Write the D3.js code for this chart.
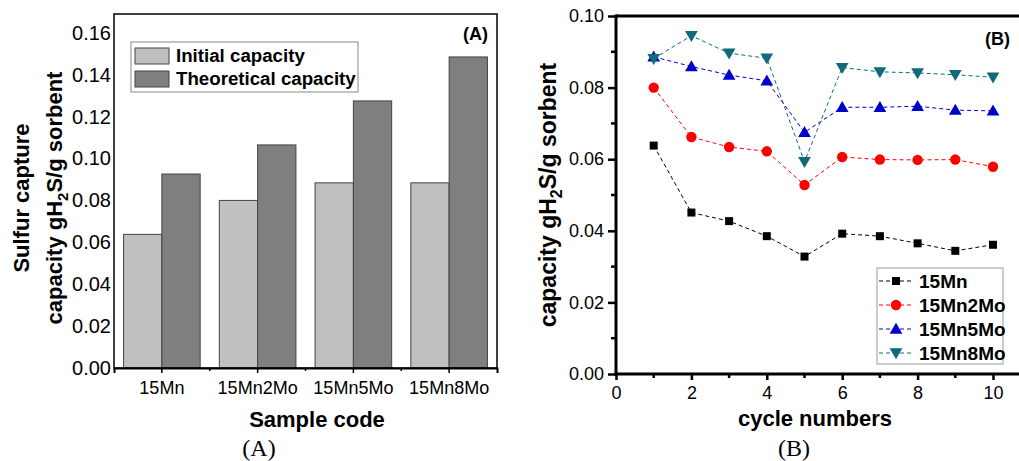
<!DOCTYPE html>
<html>
<head>
<meta charset="utf-8">
<script src="https://cdn.jsdelivr.net/npm/d3@7"></script>
<style>
  body { margin: 0; background: #fff; }
  svg { display: block; font-family: "Liberation Sans", Arial, sans-serif; }
</style>
</head>
<body>
<div id="chart"></div>
<script>
// panel A data
const samples = ["15Mn", "15Mn2Mo", "15Mn5Mo", "15Mn8Mo"];
const barSeries = ["Initial capacity", "Theoretical capacity"];
const initialCap = [0.0638, 0.0800, 0.0884, 0.0884];
const theoreticalCap = [0.0926, 0.1065, 0.1275, 0.1485];
const yTicksA = [0, 0.02, 0.04, 0.06, 0.08, 0.10, 0.12, 0.14, 0.16];

// panel B data
const cycles = [1, 2, 3, 4, 5, 6, 7, 8, 9, 10];
const lineNames = ["15Mn", "15Mn2Mo", "15Mn5Mo", "15Mn8Mo"];
const mn15 = [0.0638, 0.0451, 0.0427, 0.0385, 0.0328, 0.0392, 0.0385, 0.0365, 0.0344, 0.0361];
const mn2mo = [0.0800, 0.0662, 0.0634, 0.0622, 0.0528, 0.0606, 0.0599, 0.0598, 0.0599, 0.0579];
const mn5mo = [0.0886, 0.0859, 0.0835, 0.0819, 0.0675, 0.0745, 0.0745, 0.0748, 0.0737, 0.0735];
const mn8mo = [0.0881, 0.0945, 0.0896, 0.0882, 0.0593, 0.0856, 0.0844, 0.0841, 0.0836, 0.0829];
const xTicksB = [0, 2, 4, 6, 8, 10];
const yTicksB = [0, 0.02, 0.04, 0.06, 0.08, 0.10];

const W = 1019, H = 461;
const svg = d3.select("#chart").append("svg")
    .attr("width", W)
    .attr("height", H);
svg.append("rect").attr("width", W).attr("height", H).attr("fill", "#fff");

// ---------- panel A ----------
const A = { left: 114, right: 497, top: 14, bottom: 368 };

const x0 = d3.scaleBand()
    .domain(samples)
    .range([A.left, A.right])
    .paddingInner(0.2)
    .paddingOuter(0.1);
const x1 = d3.scaleBand()
    .domain(barSeries)
    .range([0, x0.bandwidth()]);
const yA = d3.scaleLinear().domain([0, 0.169]).range([A.bottom, A.top]);
const barColor = d3.scaleOrdinal().domain(barSeries).range(["#c0c0c0", "#7f7f7f"]);

const barRows = samples.map((s, i) => ({ sample: s, values: [initialCap[i], theoreticalCap[i]] }));

const gA = svg.append("g");

gA.selectAll("g.group")
    .data(barRows)
    .join("g")
    .attr("class", "group")
    .attr("transform", d => `translate(${x0(d.sample)},0)`)
    .selectAll("rect")
    .data(d => d.values.map((v, j) => ({ key: barSeries[j], v })))
    .join("rect")
    .attr("x", d => x1(d.key))
    .attr("y", d => yA(d.v))
    .attr("width", x1.bandwidth())
    .attr("height", d => yA(0) - yA(d.v))
    .attr("fill", d => barColor(d.key))
    .attr("stroke", "#444")
    .attr("stroke-width", 1);

// frame
gA.append("rect")
    .attr("x", A.left).attr("y", A.top)
    .attr("width", A.right - A.left).attr("height", A.bottom - A.top)
    .attr("fill", "none").attr("stroke", "#000").attr("stroke-width", 1.5);

// y axis labels (no ticks)
const yAxisA = gA.append("g")
    .attr("transform", `translate(${A.left},0)`)
    .call(d3.axisLeft(yA).tickValues(yTicksA).tickFormat(d3.format(".2f")).tickSize(0).tickPadding(3));
yAxisA.select(".domain").remove();
yAxisA.selectAll("text").attr("font-size", 20).attr("font-family", "Liberation Sans, Arial, sans-serif").attr("fill", "#000");

// bottom axis
const xAxisA = gA.append("g")
    .attr("transform", `translate(0,${A.bottom})`)
    .call(d3.axisBottom(x0).tickSize(5).tickPadding(8));
xAxisA.select(".domain").attr("stroke-width", 2);
xAxisA.selectAll(".tick line").attr("stroke-width", 1.5);
xAxisA.selectAll("text").attr("font-size", 18).attr("font-family", "Liberation Sans, Arial, sans-serif").attr("fill", "#000");
// minor ticks at group boundaries
gA.append("g").selectAll("line")
    .data(samples.slice(1))
    .join("line")
    .attr("x1", d => x0(d) - x0.step() * x0.paddingInner() / 2)
    .attr("x2", d => x0(d) - x0.step() * x0.paddingInner() / 2)
    .attr("y1", A.bottom).attr("y2", A.bottom + 3)
    .attr("stroke", "#000").attr("stroke-width", 1.5);

// legend A
const legA = gA.append("g");
legA.append("rect")
    .attr("x", 131).attr("y", 42).attr("width", 227).attr("height", 50)
    .attr("fill", "#fff").attr("stroke", "#888").attr("stroke-width", 1);
barSeries.forEach((s, i) => {
    legA.append("rect")
        .attr("x", 135).attr("y", 48 + i * 23).attr("width", 34).attr("height", 16)
        .attr("fill", barColor(s)).attr("stroke", "#444");
    legA.append("text")
        .attr("x", 176).attr("y", 62 + i * 23)
        .attr("font-size", 18.7).attr("font-weight", "bold")
        .text(s);
});

gA.append("text")
    .attr("x", 488).attr("y", 40)
    .attr("text-anchor", "end")
    .attr("font-size", 18).attr("font-weight", "bold")
    .text("(A)");

// y title (two lines)
const ytA = gA.append("text")
    .attr("transform", "translate(29,198) rotate(-90)")
    .attr("text-anchor", "middle")
    .attr("font-size", 22).attr("font-weight", "bold");
ytA.append("tspan").attr("x", 0).attr("dy", 0).text("Sulfur capture");
ytA.append("tspan").attr("x", 0).attr("dy", 33).text("capacity gH");
ytA.append("tspan").attr("font-size", 15).attr("dy", 6).text("2");
ytA.append("tspan").attr("dy", -6).text("S/g sorbent");

gA.append("text")
    .attr("x", 317).attr("y", 427)
    .attr("text-anchor", "middle")
    .attr("font-size", 22).attr("font-weight", "bold")
    .text("Sample code");

svg.append("text")
    .attr("x", 259).attr("y", 456)
    .attr("text-anchor", "middle")
    .attr("font-family", "Liberation Serif, Times New Roman, serif")
    .attr("font-size", 24)
    .text("(A)");

// ---------- panel B ----------
const B = { left: 616, right: 1030, top: 16, bottom: 374 };
const xB = d3.scaleLinear().domain([0, 10]).range([616, 993]);
const yB = d3.scaleLinear().domain([0, 0.1]).range([B.bottom, B.top]);

const gB = svg.append("g");

const lineSeries = [
    { name: lineNames[0], values: mn15, color: "#000000", shape: d3.symbolSquare, size: 64, rot: 0 },
    { name: lineNames[1], values: mn2mo, color: "#ff0000", shape: d3.symbolCircle, size: 85, rot: 0 },
    { name: lineNames[2], values: mn5mo, color: "#0000cc", shape: d3.symbolTriangle, size: 70, rot: 0 },
    { name: lineNames[3], values: mn8mo, color: "#0f6a7a", shape: d3.symbolTriangle, size: 70, rot: 180 }
];

const line = d3.line()
    .x((d, i) => xB(cycles[i]))
    .y(d => yB(d));

lineSeries.forEach(s => {
    gB.append("path")
        .attr("d", line(s.values))
        .attr("fill", "none")
        .attr("stroke", s.color)
        .attr("stroke-width", 1)
        .attr("stroke-dasharray", "4,3");
});
lineSeries.forEach(s => {
    gB.append("g").selectAll("path")
        .data(s.values)
        .join("path")
        .attr("transform", (d, i) => `translate(${xB(cycles[i])},${yB(d) + (s.rot ? -1 : (s.shape === d3.symbolTriangle ? 1 : 0))}) rotate(${s.rot})`)
        .attr("d", d3.symbol().type(s.shape).size(s.size))
        .attr("fill", s.color);
});

// frame lines: top, left, bottom
gB.append("line").attr("x1", B.left).attr("x2", B.right).attr("y1", B.top).attr("y2", B.top)
    .attr("stroke", "#000").attr("stroke-width", 3);

const xAxisB = gB.append("g")
    .attr("transform", `translate(0,${B.bottom})`)
    .call(d3.axisBottom(xB).tickValues(xTicksB).tickFormat(d3.format("d")).tickSize(6).tickPadding(6));
xAxisB.select(".domain").remove();
xAxisB.selectAll(".tick line").attr("stroke-width", 2.5);
xAxisB.selectAll("text").attr("font-size", 18).attr("font-family", "Liberation Sans, Arial, sans-serif").attr("fill", "#000");
gB.append("g").selectAll("line")
    .data([1, 3, 5, 7, 9])
    .join("line")
    .attr("x1", d => xB(d)).attr("x2", d => xB(d))
    .attr("y1", B.bottom).attr("y2", B.bottom + 4)
    .attr("stroke", "#000").attr("stroke-width", 2.5);

const yAxisB = gB.append("g")
    .attr("transform", `translate(${B.left},0)`)
    .call(d3.axisLeft(yB).tickValues(yTicksB).tickFormat(d3.format(".2f")).tickSize(8).tickPadding(4));
yAxisB.select(".domain").remove();
yAxisB.selectAll(".tick line").attr("stroke-width", 2.5);
yAxisB.selectAll("text").attr("font-size", 18).attr("font-family", "Liberation Sans, Arial, sans-serif").attr("fill", "#000");
gB.append("g").selectAll("line")
    .data([0.01, 0.03, 0.05, 0.07, 0.09])
    .join("line")
    .attr("x1", B.left - 5).attr("x2", B.left)
    .attr("y1", d => yB(d)).attr("y2", d => yB(d))
    .attr("stroke", "#000").attr("stroke-width", 2.5);

gB.append("line").attr("x1", B.left).attr("x2", B.left).attr("y1", B.top - 1.5).attr("y2", B.bottom + 1.5)
    .attr("stroke", "#000").attr("stroke-width", 3);
gB.append("line").attr("x1", B.left - 1.5).attr("x2", B.right).attr("y1", B.bottom).attr("y2", B.bottom)
    .attr("stroke", "#000").attr("stroke-width", 3);

gB.append("text")
    .attr("x", 1010).attr("y", 45)
    .attr("text-anchor", "end")
    .attr("font-size", 18).attr("font-weight", "bold")
    .text("(B)");

// legend B
const legB = gB.append("g");
legB.append("rect")
    .attr("x", 877).attr("y", 268).attr("width", 126).attr("height", 96)
    .attr("fill", "#fff").attr("stroke", "#999").attr("stroke-width", 1);
lineSeries.forEach((s, i) => {
    const yy = 281 + i * 24;
    legB.append("line")
        .attr("x1", 879).attr("x2", 914).attr("y1", yy).attr("y2", yy)
        .attr("stroke", s.color).attr("stroke-width", 1).attr("stroke-dasharray", "4,3");
    legB.append("path")
        .attr("transform", `translate(896,${yy + (s.rot ? -1 : (s.shape === d3.symbolTriangle ? 1 : 0))}) rotate(${s.rot})`)
        .attr("d", d3.symbol().type(s.shape).size(s.size))
        .attr("fill", s.color);
    legB.append("text")
        .attr("x", 919).attr("y", yy + 7)
        .attr("font-size", 19).attr("font-weight", "bold")
        .text(s.name);
});

const ytB = gB.append("text")
    .attr("transform", "translate(556,195) rotate(-90)")
    .attr("text-anchor", "middle")
    .attr("font-size", 23).attr("font-weight", "bold");
ytB.append("tspan").text("capacity gH");
ytB.append("tspan").attr("font-size", 16).attr("dy", 6).text("2");
ytB.append("tspan").attr("dy", -6).text("S/g sorbent");

gB.append("text")
    .attr("x", 815).attr("y", 426)
    .attr("text-anchor", "middle")
    .attr("font-size", 22).attr("font-weight", "bold")
    .text("cycle numbers");

svg.append("text")
    .attr("x", 794).attr("y", 456)
    .attr("text-anchor", "middle")
    .attr("font-family", "Liberation Serif, Times New Roman, serif")
    .attr("font-size", 24)
    .text("(B)");
</script>
</body>
</html>
